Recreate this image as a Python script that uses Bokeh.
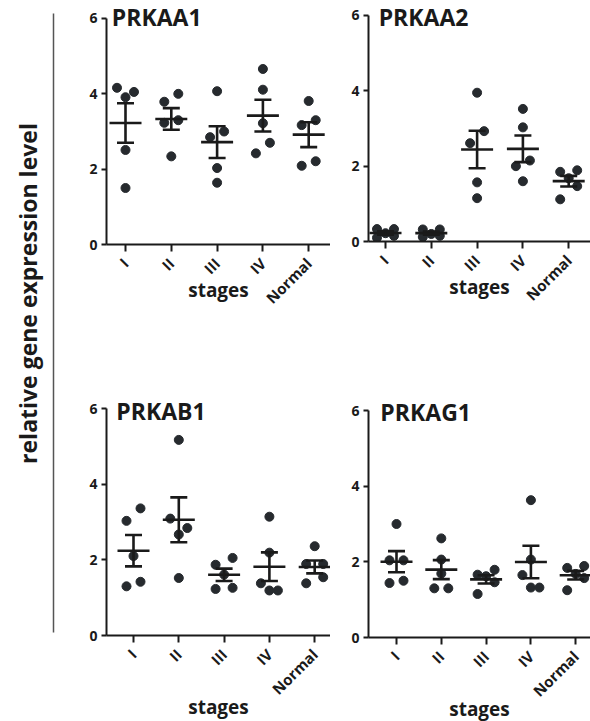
import numpy as np
from bokeh.plotting import figure
from bokeh.models import Range1d, FixedTicker
from bokeh.layouts import row, column
from bokeh.embed import file_html
from bokeh.resources import INLINE
from bokeh.core.properties import value

# ---------------- data ----------------
stages = ["I", "II", "III", "IV", "Normal"]
y_ticks = [0, 2, 4, 6]
y_label = "relative gene expression level"
x_label = "stages"
genes = ["PRKAA1", "PRKAA2", "PRKAB1", "PRKAG1"]

prkaa1 = [
    [4.16, 4.05, 3.91, 2.51, 1.50],
    [4.00, 3.79, 3.30, 3.23, 2.34],
    [4.07, 3.00, 2.85, 2.03, 1.64],
    [4.66, 4.11, 3.22, 2.70, 2.42],
    [3.81, 3.30, 3.17, 2.21, 2.09],
]
prkaa2 = [
    [0.33, 0.33, 0.22, 0.15, 0.10],
    [0.32, 0.32, 0.20, 0.15, 0.12],
    [3.95, 2.93, 2.61, 1.57, 1.15],
    [3.52, 3.03, 2.15, 2.00, 1.60],
    [1.89, 1.85, 1.68, 1.47, 1.12],
]
prkab1 = [
    [3.36, 3.03, 2.10, 1.42, 1.30],
    [5.17, 3.09, 2.84, 2.67, 1.52],
    [2.05, 1.87, 1.61, 1.26, 1.23],
    [3.14, 2.19, 1.38, 1.19, 1.19],
    [2.36, 1.89, 1.89, 1.54, 1.38],
]
prkag1 = [
    [3.00, 2.04, 2.04, 1.50, 1.44],
    [2.62, 2.06, 1.69, 1.30, 1.30],
    [1.79, 1.66, 1.62, 1.46, 1.15],
    [3.63, 2.06, 1.65, 1.32, 1.32],
    [1.89, 1.84, 1.68, 1.57, 1.25],
]
gene_data = [prkaa1, prkaa2, prkab1, prkag1]

# ---------------- styling / layout ----------------
FONT = "Open Sans"
DOT = "#262a2e"
LINE = "#1a1a1a"

# frames in the same column share left border and width (Bokeh aligns them)
panels = [
    dict(ml=36, fw=224, mt=0, fh=244, mb=116, sp=45.8, ix=19, ytop=6 + 18 / 37.67,
         tx=0.70, ty=6.05, std=-41),
    dict(ml=38, fw=222, mt=0, fh=241, mb=119, sp=45.8, ix=17, ytop=6 + 15 / 37.67,
         tx=0.85, ty=5.95, std=-41),
    dict(ml=36, fw=224, mt=20, fh=255, mb=86, sp=45.3, ix=27, ytop=6 + 28 / 37.83,
         tx=0.62, ty=5.93, std=-15),
    dict(ml=38, fw=222, mt=20, fh=257, mb=84, sp=44.8, ix=28, ytop=6 + 30 / 37.83,
         tx=0.64, ty=5.96, std=-15),
]


def swarm_offsets(vals, px_per_unit, gap=0.36):
    """GraphPad-like horizontal spreading of points with close values (pixel offsets -> data)."""
    vals = np.asarray(vals, dtype=float)
    order = np.argsort(vals, kind="stable")
    sv = vals[order]
    clusters, cur = [], [0]
    for i in range(1, len(sv)):
        if sv[i] - sv[i - 1] < gap:
            cur.append(i)
        else:
            clusters.append(cur)
            cur = [i]
    clusters.append(cur)
    off_sorted = np.zeros(len(sv))
    s2, s = 7.0, 8.5
    for c in clusters:
        n = len(c)
        if n == 1:
            pat = [0.0]
        elif n == 2:
            pat = [-s2, s2]
        elif n == 3:
            pat = [0.0, s, -s]
        elif n == 4:
            pat = [-s, s, -s, s]
        else:
            pat = ([-s, s, 0.0] * n)[:n]
        for k, idx in enumerate(c):
            off_sorted[idx] = pat[k]
    off = np.zeros(len(sv))
    off[order] = off_sorted
    return off / px_per_unit


figs = []
for gene, data, pp in zip(genes, gene_data, panels):
    x0 = 1 - pp["ix"] / pp["sp"]
    x1 = x0 + pp["fw"] / pp["sp"]
    p = figure(
        frame_width=pp["fw"], frame_height=pp["fh"],
        min_border_left=pp["ml"], min_border_right=0,
        min_border_top=pp["mt"], min_border_bottom=pp["mb"],
        x_range=Range1d(x0, x1), y_range=Range1d(0, pp["ytop"]),
        output_backend="svg", toolbar_location=None,
        outline_line_color=None, background_fill_color="white", border_fill_color="white",
    )
    p.grid.visible = False
    ppu = pp["sp"]

    xs, ys = [], []
    means, sems, cx = [], [], []
    for si, vals in enumerate(data):
        pos = si + 1
        off = swarm_offsets(vals, ppu)
        xs.extend(pos + off)
        ys.extend(vals)
        arr = np.asarray(vals)
        means.append(arr.mean())
        sems.append(arr.std(ddof=1) / np.sqrt(len(arr)))
        cx.append(pos)

    p.scatter(xs, ys, size=9, color=DOT, line_color=DOT)

    cx = np.asarray(cx, dtype=float)
    means = np.asarray(means)
    sems = np.asarray(sems)
    mw = 16.0 / ppu   # half-width of mean line
    cw = 8.5 / ppu    # half-width of caps
    lw = 2.6
    p.segment(cx - mw, means, cx + mw, means, line_color=LINE, line_width=lw)
    p.segment(cx, means - sems, cx, means + sems, line_color=LINE, line_width=lw)
    p.segment(cx - cw, means + sems, cx + cw, means + sems, line_color=LINE, line_width=lw)
    p.segment(cx - cw, means - sems, cx + cw, means - sems, line_color=LINE, line_width=lw)

    # gene name inside the frame, next to the top of the y axis
    p.text(x=[pp["tx"]], y=[pp["ty"]], text=[gene], text_font=value(FONT),
           text_font_size="23px", text_font_style="bold", text_color=LINE,
           text_align="left", text_baseline="middle")

    # axes
    p.xaxis.ticker = FixedTicker(ticks=[1, 2, 3, 4, 5])
    p.xaxis.major_label_overrides = {i + 1: s for i, s in enumerate(stages)}
    p.xaxis.major_label_orientation = np.pi / 4
    p.yaxis.ticker = FixedTicker(ticks=y_ticks)
    p.yaxis.bounds = (0, 6)
    for ax in (p.xaxis, p.yaxis):
        ax.axis_line_width = 2
        ax.axis_line_color = LINE
        ax.major_tick_line_width = 2
        ax.major_tick_line_color = LINE
        ax.major_tick_in = 0
        ax.minor_tick_line_color = None
        ax.major_label_text_font = FONT
        ax.major_label_text_font_style = "bold"
        ax.major_label_text_color = LINE
    p.xaxis.major_tick_out = 7
    p.yaxis.major_tick_out = 5
    p.xaxis.major_label_text_font_size = "15px"
    p.yaxis.major_label_text_font_size = "14px"
    p.xaxis.major_label_standoff = 9
    p.yaxis.major_label_standoff = 4

    p.xaxis.axis_label = x_label
    p.xaxis.axis_label_text_font = FONT
    p.xaxis.axis_label_text_font_size = "19px"
    p.xaxis.axis_label_text_font_style = "bold"
    p.xaxis.axis_label_text_color = LINE
    p.xaxis.axis_label_text_align = "right"
    p.xaxis.axis_label_standoff = pp["std"]
    figs.append(p)

# left strip with the shared y label
lab = figure(width=70, height=721, x_range=Range1d(0, 70), y_range=Range1d(0, 721),
             x_axis_type=None, y_axis_type=None, min_border=0, outline_line_color=None,
             output_backend="svg", toolbar_location=None)
lab.grid.visible = False
lab.text(x=[27], y=[428], text=[y_label], angle=np.pi / 2, text_font=value(FONT),
         text_font_size="23px", text_font_style="bold", text_color=LINE,
         text_align="center", text_baseline="middle")
lab.segment(x0=[53], y0=[89], x1=[53], y1=[708], line_color="#555555", line_width=1.5)

layout = row(lab, column(figs[0], figs[2]), column(figs[1], figs[3]))
open("out.html", "w").write(file_html(layout, INLINE))
